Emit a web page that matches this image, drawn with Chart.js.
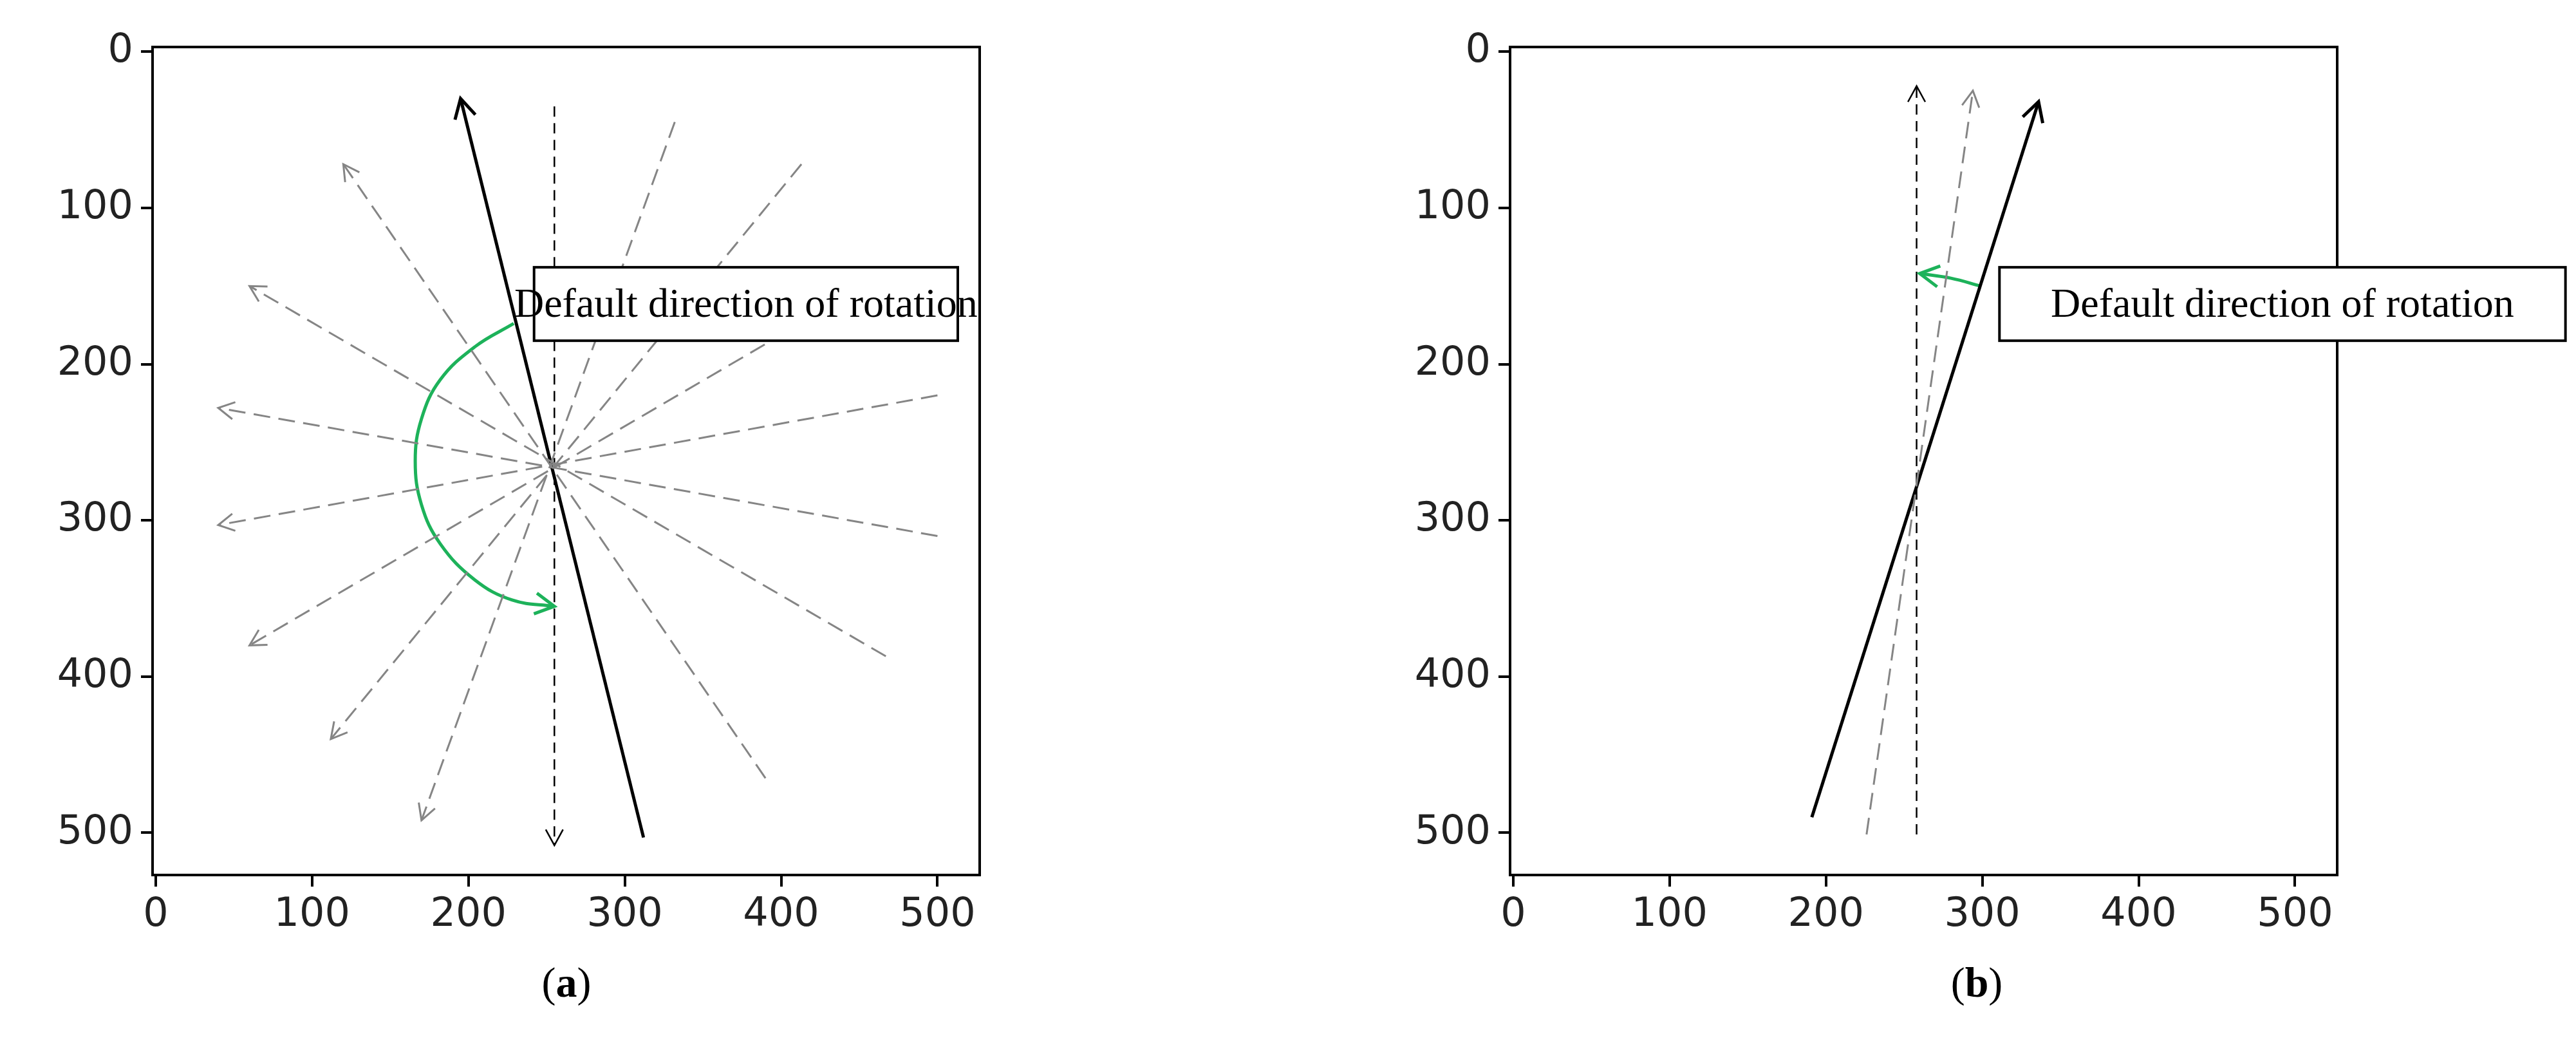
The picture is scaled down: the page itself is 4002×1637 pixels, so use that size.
<!DOCTYPE html>
<html>
<head>
<meta charset="utf-8">
<script src="https://cdn.jsdelivr.net/npm/chart.js@4.4.0/dist/chart.umd.min.js"></script>
<style>
  body { margin: 0; background: #fff; width: 4002px; height: 1637px; position: relative; overflow: hidden; }
  .panel { position: absolute; top: 0; }
  .cap { position: absolute; top: 1488px; font-family: "Liberation Serif", serif; font-size: 66px; color: #000; transform: translateX(-50%); }
</style>
</head>
<body>
<div class="panel" style="left:0px;width:2000px;height:1480px"><canvas id="chart-a"></canvas></div>
<div class="panel" style="left:2000px;width:2002px;height:1480px"><canvas id="chart-b"></canvas></div>
<div class="cap" style="left:880px">(<b>a</b>)</div>
<div class="cap" style="left:3071px">(<b>b</b>)</div>
<script>
// tick labels (same on both panels)
const tick_values = [0, 100, 200, 300, 400, 500];

// panel (a): gray dashed lines through the centre, start -> end (arrow at end)
const a_gray_start = [[390, 465], [467, 387], [500, 310], [500, 220], [445, 155], [413, 72], [332, 45]];
const a_gray_end   = [[120, 72],  [60, 150],  [40, 228],  [40, 303],  [60, 380],  [112, 440], [170, 492]];
const a_gray_arrow = [true, true, true, true, true, true, true];
const a_black_solid = [[312, 503], [195, 30]];
const a_black_dashed = [[255, 35], [255, 508]];
const a_green_arc = [[229, 174], [204, 189], [182, 210], [170, 235], [166, 262], [170, 290], [182, 315], [204, 338], [228, 351], [255, 355]];

// panel (b)
const b_black_solid = [[191, 490], [336, 32]];
const b_gray_dashed = [[226, 501], [294, 25]];
const b_black_dashed = [[258, 501], [258, 22]];
const b_green_arc = [[299, 150], [280, 145], [260, 142]];

const box_label = "Default direction of rotation";
const a_box = [242, 138, 513, 185];
const b_box = [311, 138, 673, 185];

const toXY = pts => pts.map(p => ({x: p[0], y: p[1]}));

const line_ds = (pts, color, width, dash, arrow) => ({
	data: toXY(pts),
	showLine: true,
	borderColor: color,
	borderWidth: width,
	borderDash: dash,
	pointRadius: 0,
	fill: false,
	clip: false,
	arrow: arrow
});

const frame_plugin = {
	id: 'frame',
	afterDatasetsDraw(chart, args, opts) {
		const ctx = chart.ctx;
		const xs = chart.scales.x, ys = chart.scales.y;
		// arrow heads
		chart.data.datasets.forEach((ds, i) => {
			if (!ds.arrow) return;
			const pts = chart.getDatasetMeta(i).data;
			const p1 = pts[pts.length - 2], p2 = pts[pts.length - 1];
			const ang = Math.atan2(p2.y - p1.y, p2.x - p1.x);
			const len = ds.borderWidth > 4 ? 34 : 28;
			ctx.save();
			ctx.strokeStyle = ds.borderColor;
			ctx.lineWidth = ds.borderWidth;
			ctx.setLineDash([]);
			ctx.beginPath();
			ctx.moveTo(p2.x - len * Math.cos(ang - 0.5), p2.y - len * Math.sin(ang - 0.5));
			ctx.lineTo(p2.x, p2.y);
			ctx.lineTo(p2.x - len * Math.cos(ang + 0.5), p2.y - len * Math.sin(ang + 0.5));
			ctx.stroke();
			ctx.restore();
		});
		// text box
		const b = opts.box;
		const x0 = xs.getPixelForValue(b[0]), x1 = xs.getPixelForValue(b[2]);
		const y0 = ys.getPixelForValue(b[1]), y1 = ys.getPixelForValue(b[3]);
		ctx.save();
		ctx.fillStyle = '#fff';
		ctx.fillRect(x0, y0, x1 - x0, y1 - y0);
		ctx.strokeStyle = '#000';
		ctx.lineWidth = 4;
		ctx.strokeRect(x0, y0, x1 - x0, y1 - y0);
		ctx.fillStyle = '#000';
		ctx.font = '64px "Liberation Serif"';
		ctx.textBaseline = 'middle';
		ctx.textAlign = 'center';
		ctx.fillText(box_label, (x0 + x1) / 2, (y0 + y1) / 2 + 3);
		ctx.restore();
	},
	beforeDatasetsDraw(chart) {
		const a = chart.chartArea, ctx = chart.ctx;
		ctx.save();
		ctx.strokeStyle = '#000';
		ctx.lineWidth = 4;
		ctx.strokeRect(a.left, a.top, a.right - a.left, a.bottom - a.top);
		ctx.restore();
	}
};

const make_chart = (el, datasets, box, yWidth, padRight) => new Chart(document.getElementById(el), {
	type: 'scatter',
	data: { datasets: datasets },
	plugins: [frame_plugin],
	options: {
		responsive: true,
		maintainAspectRatio: false,
		animation: false,
		layout: { padding: { top: 73, right: padRight, left: 0, bottom: 0 } },
		plugins: { legend: { display: false }, tooltip: { enabled: false }, frame: { box: box } },
		scales: {
			x: {
				type: 'linear', min: -2, max: 527,
				afterBuildTicks: s => { s.ticks = tick_values.map(v => ({value: v})); },
				afterFit: s => { s.height = 121; },
				border: { color: '#000', width: 4 },
				grid: { drawOnChartArea: false, drawTicks: true, tickLength: 18, color: '#000', lineWidth: 4 },
				ticks: { color: '#222', font: { family: 'DejaVu Sans', size: 62 }, padding: 8, maxRotation: 0 }
			},
			y: {
				type: 'linear', min: -3, max: 527, reverse: true,
				afterBuildTicks: s => { s.ticks = tick_values.map(v => ({value: v})); },
				afterFit: s => { s.width = yWidth; },
				border: { color: '#000', width: 4 },
				grid: { drawOnChartArea: false, drawTicks: true, tickLength: 18, color: '#000', lineWidth: 4 },
				ticks: { color: '#222', font: { family: 'DejaVu Sans', size: 62 }, padding: 12 }
			}
		}
	}
});

let a_sets = [];
for (let i in a_gray_start) {
	a_sets.push(line_ds([a_gray_start[i], a_gray_end[i]], '#858585', 3, [26, 13], a_gray_arrow[i]));
}
a_sets.push(line_ds(a_black_dashed, '#000', 2.5, [16, 10], true));
a_sets.push(line_ds(a_black_solid, '#000', 5, [], true));
let green_a = line_ds(a_green_arc, '#1db25a', 5, [], true);
green_a.tension = 0.4;
a_sets.push(green_a);
make_chart('chart-a', a_sets, a_box, 237, 478);

let b_sets = [];
b_sets.push(line_ds(b_gray_dashed, '#858585', 3, [26, 13], true));
b_sets.push(line_ds(b_black_dashed, '#000', 2.5, [16, 10], true));
b_sets.push(line_ds(b_black_solid, '#000', 5, [], true));
let green_b = line_ds(b_green_arc, '#1db25a', 5, [], true);
green_b.tension = 0.4;
b_sets.push(green_b);
make_chart('chart-b', b_sets, b_box, 346, 371);
</script>
</body>
</html>
